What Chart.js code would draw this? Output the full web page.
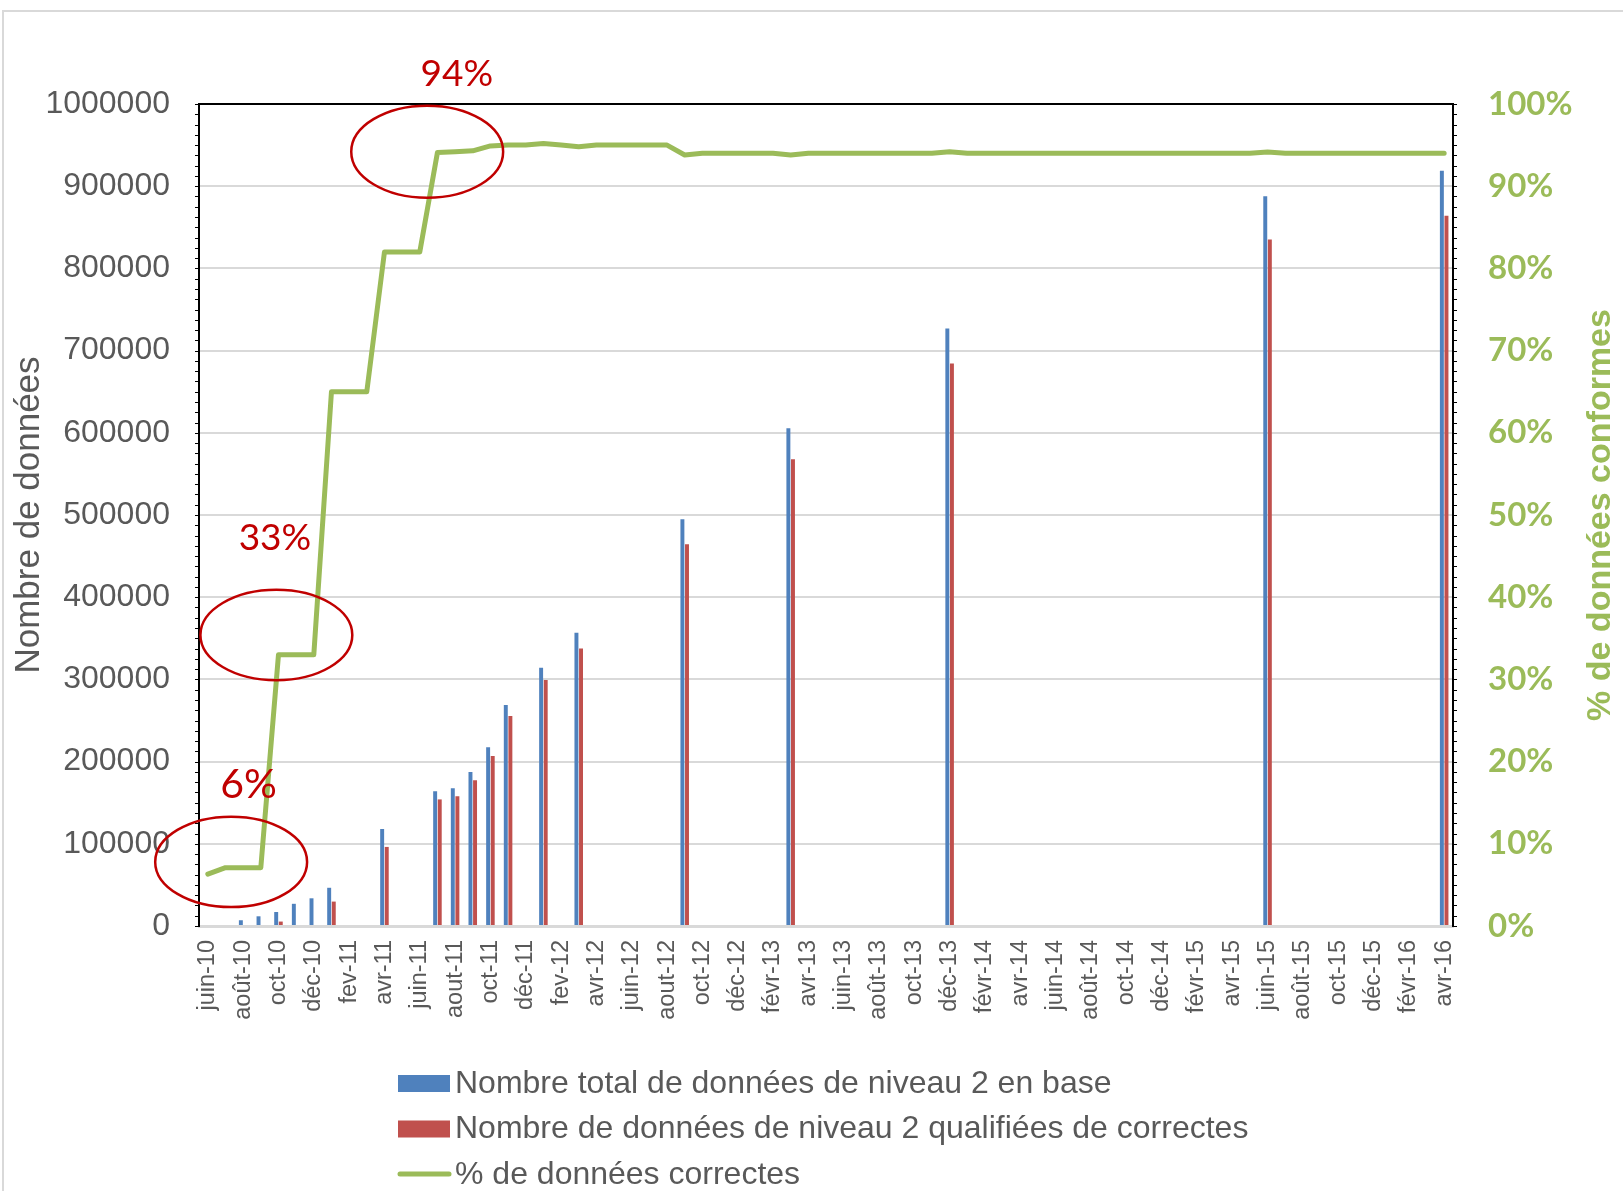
<!DOCTYPE html>
<html lang="fr">
<head>
<meta charset="utf-8">
<title>Données de niveau 2</title>
<script src="https://cdn.jsdelivr.net/npm/chart.js@4/dist/chart.umd.min.js"></script>
<style>
  html, body { margin: 0; padding: 0; background: #fff; }
</style>
</head>
<body>
<canvas id="chart" width="1623" height="1191"></canvas>
<script>
// months from juin-10 to avr-16, only every second one gets a label
const months = [
  "juin-10", "juil-10", "août-10", "sept-10", "oct-10", "nov-10", "déc-10", "janv-11",
  "fev-11", "mars-11", "avr-11", "mai-11", "juin-11", "juil-11", "aout-11", "sept-11",
  "oct-11", "nov-11", "déc-11", "janv-12", "fev-12", "mars-12", "avr-12", "mai-12",
  "juin-12", "juil-12", "aout-12", "sept-12", "oct-12", "nov-12", "déc-12", "janv-13",
  "févr-13", "mars-13", "avr-13", "mai-13", "juin-13", "juil-13", "août-13", "sept-13",
  "oct-13", "nov-13", "déc-13", "janv-14", "févr-14", "mars-14", "avr-14", "mai-14",
  "juin-14", "juil-14", "août-14", "sept-14", "oct-14", "nov-14", "déc-14", "janv-15",
  "févr-15", "mars-15", "avr-15", "mai-15", "juin-15", "juil-15", "août-15", "sept-15",
  "oct-15", "nov-15", "déc-15", "janv-16", "févr-16", "mars-16", "avr-16"
];

const n = null;
const totalCount = [
  n, n, 7000, 11800, 17000, 27000, 33700, 46500,
  n, n, 118000, n, n, 163900, 167500, 187400,
  217400, 268900, n, 314100, n, 356800, n, n,
  n, n, n, 494800, n, n, n, n,
  n, 605500, n, n, n, n, n, n,
  n, n, 726800, n, n, n, n, n,
  n, n, n, n, n, n, n, n,
  n, n, n, n, 887900, n, n, n,
  n, n, n, n, n, n, 918700
];
const correctCount = [
  n, n, n, n, 5400, n, n, 29700,
  n, n, 96200, n, n, 154000, 157800, 177300,
  206800, 255500, n, 299200, n, 337700, n, n,
  n, n, n, 464300, n, n, n, n,
  n, 567800, n, n, n, n, n, n,
  n, n, 684200, n, n, n, n, n,
  n, n, n, n, n, n, n, n,
  n, n, n, n, 835100, n, n, n,
  n, n, n, n, n, n, 863900
];
const pctCorrect = [
  6.3, 7.1, 7.1, 7.1, 33.0, 33.0, 33.0, 65.0,
  65.0, 65.0, 82.0, 82.0, 82.0, 94.1, 94.2, 94.3,
  94.9, 95.0, 95.0, 95.2, 95.0, 94.8, 95.0, 95.0,
  95.0, 95.0, 95.0, 93.8, 94.0, 94.0, 94.0, 94.0,
  94.0, 93.8, 94.0, 94.0, 94.0, 94.0, 94.0, 94.0,
  94.0, 94.0, 94.2, 94.0, 94.0, 94.0, 94.0, 94.0,
  94.0, 94.0, 94.0, 94.0, 94.0, 94.0, 94.0, 94.0,
  94.0, 94.0, 94.0, 94.0, 94.15, 94.0, 94.0, 94.0,
  94.0, 94.0, 94.0, 94.0, 94.0, 94.0, 94.0
];

const seriesNames = [
  "Nombre total de données de niveau 2 en base",
  "Nombre de données de niveau 2 qualifiées de correctes",
  "% de données correctes"
];

// red circles and labels drawn on top (category index, percent)
const circles = [
  { cat: 1.32, pct: 7.8, rx: 4.3, ry: 5.5 },
  { cat: 3.88, pct: 35.4, rx: 4.3, ry: 5.5 },
  { cat: 12.42, pct: 94.2, rx: 4.3, ry: 5.6 }
];
const notes = [
  { text: "6%", cat: 2.3, pct: 17.2, size: 41 },
  { text: "33%", cat: 3.8, pct: 47.2, size: 37 },
  { text: "94%", cat: 14.1, pct: 103.7, size: 37 }
];

const gray = "#595959";
const green = "#9BBB59";
const sans = "'Liberation Sans', Arial, sans-serif";

const decor = {
  id: "decor",
  beforeDraw(chart) {
    const ctx = chart.ctx;
    ctx.save();
    ctx.fillStyle = "#fff";
    ctx.fillRect(0, 0, chart.width, chart.height);
    ctx.strokeStyle = "#d9d9d9";
    ctx.lineWidth = 2;
    ctx.beginPath();
    ctx.moveTo(3, chart.height);
    ctx.lineTo(3, 11);
    ctx.lineTo(chart.width, 11);
    ctx.stroke();
    ctx.restore();
  },
  afterDatasetsDraw(chart) {
    const ctx = chart.ctx;
    const a = chart.chartArea;
    ctx.save();
    ctx.strokeStyle = "#000";
    ctx.lineWidth = 2;
    ctx.beginPath();
    ctx.moveTo(a.left - 1, a.top);
    ctx.lineTo(a.right + 1, a.top);
    ctx.stroke();
    // minor ticks on both vertical axes
    ctx.lineWidth = 1;
    ctx.beginPath();
    const y = chart.scales.y;
    for (let v = 0; v <= 1000000; v += 12500) {
      const py = Math.round(y.getPixelForValue(v)) + 0.5;
      ctx.moveTo(a.left - 4, py);
      ctx.lineTo(a.left, py);
      ctx.moveTo(a.right, py);
      ctx.lineTo(a.right + 4, py);
    }
    ctx.stroke();
    ctx.restore();
  },
  afterDraw(chart) {
    const ctx = chart.ctx;
    const x = chart.scales.x;
    const y1 = chart.scales.y1;
    const a = chart.chartArea;
    ctx.save();

    // right axis title, reading bottom to top
    ctx.translate(1601, (a.top + a.bottom) / 2);
    ctx.rotate(-Math.PI / 2);
    ctx.fillStyle = green;
    ctx.font = "bold 34px " + sans;
    ctx.textAlign = "center";
    ctx.textBaseline = "middle";
    ctx.fillText("% de données conformes", 0, 0);
    ctx.setTransform(1, 0, 0, 1, 0, 0);

    // annotations
    const unitX = x.getPixelForValue(1) - x.getPixelForValue(0);
    const unitY = y1.getPixelForValue(0) - y1.getPixelForValue(1);
    ctx.strokeStyle = "#C00000";
    ctx.lineWidth = 2.5;
    circles.forEach((c) => {
      ctx.beginPath();
      ctx.ellipse(x.getPixelForValue(c.cat), y1.getPixelForValue(c.pct),
        c.rx * unitX, c.ry * unitY, 0, 0, Math.PI * 2);
      ctx.stroke();
    });
    ctx.fillStyle = "#C00000";
    ctx.textAlign = "center";
    ctx.textBaseline = "middle";
    notes.forEach((t) => {
      ctx.font = t.size + "px Lato, 'Open Sans', sans-serif";
      ctx.fillText(t.text, x.getPixelForValue(t.cat), y1.getPixelForValue(t.pct));
    });

    // legend, stacked and left aligned
    ctx.font = "32px " + sans;
    ctx.textAlign = "left";
    chart.data.datasets.forEach((ds, i) => {
      const cy = 1083 + i * 45.5;
      if (ds.type === "line") {
        ctx.strokeStyle = ds.borderColor;
        ctx.lineWidth = 5;
        ctx.lineCap = "round";
        ctx.beginPath();
        ctx.moveTo(400, cy);
        ctx.lineTo(449, cy);
        ctx.stroke();
      } else {
        ctx.fillStyle = ds.backgroundColor;
        ctx.fillRect(398, cy - 8, 52, 17);
      }
      ctx.fillStyle = gray;
      ctx.fillText(ds.label, 455, cy + 1);
    });
    ctx.restore();
  }
};

new Chart(document.getElementById("chart"), {
  type: "bar",
  data: {
    labels: months,
    datasets: [
      {
        label: seriesNames[0],
        data: totalCount,
        backgroundColor: "#4F81BD",
        yAxisID: "y",
        order: 1,
        categoryPercentage: 0.52,
        barPercentage: 0.86
      },
      {
        label: seriesNames[1],
        data: correctCount,
        backgroundColor: "#C0504D",
        yAxisID: "y",
        order: 1,
        categoryPercentage: 0.52,
        barPercentage: 0.86
      },
      {
        type: "line",
        label: seriesNames[2],
        data: pctCorrect,
        borderColor: green,
        borderWidth: 5,
        pointRadius: 0,
        tension: 0,
        borderJoinStyle: "round",
        borderCapStyle: "round",
        yAxisID: "y1",
        order: 0
      }
    ]
  },
  options: {
    responsive: false,
    animation: false,
    devicePixelRatio: 1,
    layout: { padding: { top: 104, left: 0, right: 0, bottom: 135 } },
    plugins: {
      legend: { display: false },
      tooltip: { enabled: false }
    },
    scales: {
      x: {
        offset: true,
        grid: { display: false, drawTicks: false },
        border: { color: "#d9d9d9", width: 3 },
        ticks: {
          autoSkip: false,
          minRotation: 90,
          maxRotation: 90,
          padding: 14,
          color: gray,
          font: { family: sans, size: 23.5 },
          callback: (v, i) => (i % 2 === 0 ? months[i] : "")
        },
        afterFit: (s) => { s.height = 130; }
      },
      y: {
        position: "left",
        min: 0,
        max: 1000000,
        grid: { color: "#d9d9d9", lineWidth: 2, drawTicks: false },
        border: { color: "#000", width: 2 },
        ticks: {
          stepSize: 100000,
          padding: 29,
          color: gray,
          font: { family: sans, size: 32 },
          callback: (v) => String(v)
        },
        title: {
          display: true,
          text: "Nombre de données",
          color: gray,
          font: { family: sans, size: 35 },
          padding: { top: 8, bottom: 0 }
        },
        afterFit: (s) => { s.width = 199; }
      },
      y1: {
        position: "right",
        min: 0,
        max: 100,
        grid: { drawOnChartArea: false, drawTicks: false },
        border: { color: "#000", width: 2 },
        ticks: {
          stepSize: 10,
          padding: 35,
          color: green,
          font: { family: "Lato, 'Open Sans', sans-serif", size: 33, weight: "bold" },
          callback: (v) => v + "%"
        },
        afterFit: (s) => { s.width = 170; }
      }
    }
  },
  plugins: [decor]
});
</script>
</body>
</html>
